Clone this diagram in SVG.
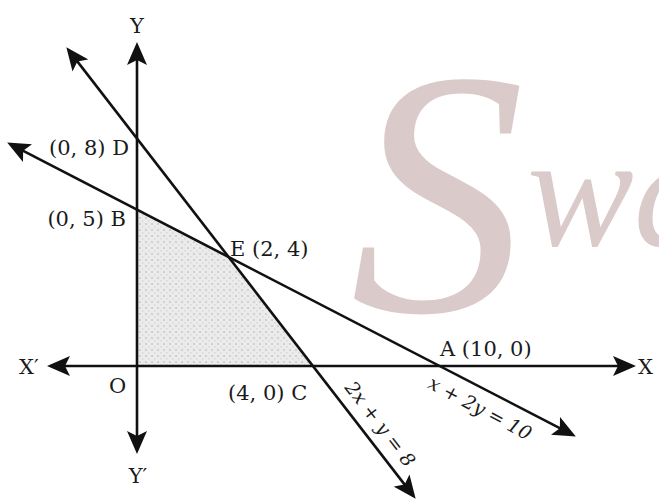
<svg xmlns="http://www.w3.org/2000/svg" width="659" height="502" viewBox="0 0 659 502">
<style>
.lbl{font-family:"DejaVu Serif","Liberation Serif",serif;font-size:21px;fill:#1a1a1a}
.eq{font-family:"DejaVu Serif","Liberation Serif",serif;font-size:19px;font-style:italic;fill:#1a1a1a}
.ln{stroke:#111;stroke-width:2.6;fill:none;marker-start:url(#ah);marker-end:url(#ah)}
.wm{font-family:"Liberation Serif","DejaVu Serif",serif;font-style:italic;fill:#dacaca}
</style>
<defs>
<marker id="ah" markerUnits="userSpaceOnUse" markerWidth="24" markerHeight="20" refX="19" refY="10" orient="auto-start-reverse">
<path d="M0,0 L23,10 L0,20 L5,10 Z" fill="#111"/>
</marker>
<pattern id="dots" width="6" height="6" patternUnits="userSpaceOnUse">
<rect width="6" height="6" fill="#ebebeb"/>
<rect x="1" y="1" width="2" height="2" fill="#d0d0d0"/>
<rect x="4" y="4" width="1.5" height="1.5" fill="#d8d8d8"/>
</pattern>
</defs>
<rect width="659" height="502" fill="#fff"/>
<g id="watermark">
<text class="wm" x="350" y="311" font-size="350">S<tspan font-size="160" dx="2" dy="-66">wa</tspan></text>
</g>
<g id="feasible-region">
<polygon points="137,366 137,209.7 228.7,257.4 313,366" fill="url(#dots)"/>
</g>
<g id="connectors">
<line id="x-axis" class="ln" x1="51" y1="366" x2="632" y2="366"/>
<line id="y-axis" class="ln" x1="137" y1="46" x2="137" y2="450"/>
<line id="line-2x-y-8" class="ln" x1="68.8" y1="50.4" x2="413.2" y2="495.6"/>
<line id="line-x-2y-10" class="ln" x1="10.7" y1="144.4" x2="572.3" y2="434.6"/>
</g>
<g id="axis-labels">
<text class="lbl" x="137" y="33" text-anchor="middle">Y</text>
<text class="lbl" x="138" y="483" text-anchor="middle">Y′</text>
<text class="lbl" x="19" y="374">X′</text>
<text class="lbl" x="638" y="374">X</text>
<text class="lbl" x="109" y="393">O</text>
</g>
<g id="node-D"><text class="lbl" x="129" y="155" text-anchor="end">(0, 8) D</text></g>
<g id="node-B"><text class="lbl" x="126" y="226" text-anchor="end">(0, 5) B</text></g>
<g id="node-E"><text class="lbl" x="230" y="256">E (2, 4)</text></g>
<g id="node-C"><text class="lbl" x="228" y="400">(4, 0) C</text></g>
<g id="node-A"><text class="lbl" x="440" y="356">A (10, 0)</text></g>
<g id="eq-labels">
<text class="eq" text-anchor="middle" transform="translate(477,414) rotate(28)">x + 2y = 10</text>
<text class="eq" text-anchor="middle" transform="translate(375,428) rotate(52.5)">2x + y = 8</text>
</g>
</svg>
